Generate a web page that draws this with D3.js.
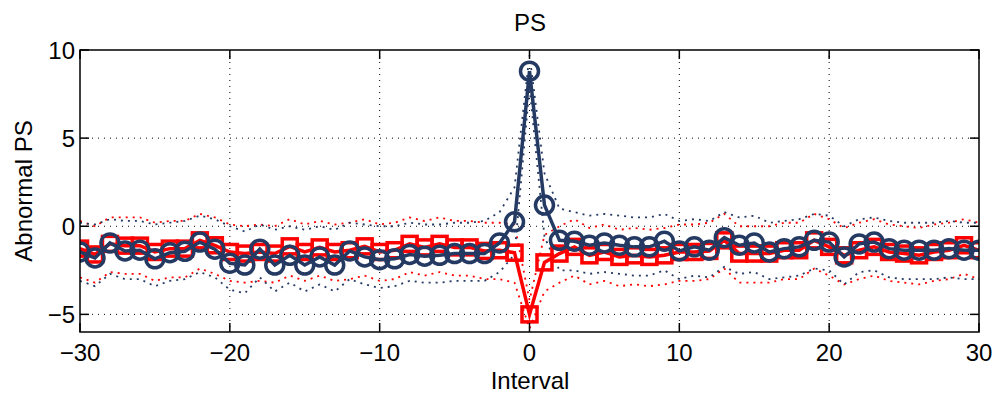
<!DOCTYPE html>
<html><head><meta charset="utf-8">
<script src="https://cdn.jsdelivr.net/npm/d3@7"></script>
<style>body{margin:0;background:#fff}svg{display:block}text{font-family:"Liberation Sans",Arial,sans-serif;fill:#000}</style>
</head><body><svg id="c" width="1000" height="396"></svg>
<script>
const intervals = d3.range(-30, 31);
const circleSeries = [-1.46,-1.8,-0.95,-1.4,-1.36,-1.85,-1.5,-1.42,-0.9,-1.3,-2.1,-2.2,-1.3,-2.2,-1.65,-2.2,-1.74,-2.2,-1.4,-1.74,-1.9,-1.85,-1.6,-1.7,-1.65,-1.55,-1.55,-1.55,-0.95,0.25,8.8,1.2,-0.8,-0.85,-1.08,-0.95,-1.08,-1.17,-1.17,-0.85,-1.4,-1.17,-1.36,-0.65,-1.08,-0.95,-1.46,-1.27,-1.17,-0.8,-0.9,-1.74,-1.0,-0.9,-1.27,-1.36,-1.36,-1.36,-1.27,-1.36,-1.36];
const squareSeries = [-1.27,-1.6,-1.0,-1.1,-1.1,-1.46,-1.27,-1.27,-0.8,-1.08,-1.46,-1.55,-1.46,-1.55,-1.14,-1.46,-1.2,-1.46,-1.36,-1.14,-1.46,-1.36,-1.0,-1.2,-1.0,-1.2,-1.2,-1.4,-1.36,-1.5,-5.0,-2.05,-1.55,-1.17,-1.65,-1.46,-1.74,-1.65,-1.74,-1.65,-1.46,-1.46,-1.4,-0.8,-1.55,-1.55,-1.55,-1.36,-1.36,-0.8,-1.17,-1.65,-1.36,-1.17,-1.46,-1.55,-1.65,-1.46,-1.36,-1.08,-1.36];
const circleUpper = [0.2,0.1,0.4,0.3,0.3,0.1,0.2,0.3,0.6,0.4,0.0,-0.3,0.1,-0.2,0.0,-0.2,0.0,-0.2,0.2,0.1,0.0,0.0,0.2,0.1,0.1,0.2,0.2,0.3,0.8,2.2,9.7,3.0,1.0,0.8,0.6,0.7,0.6,0.5,0.5,0.7,0.3,0.4,0.3,0.8,0.5,0.6,0.2,0.3,0.4,0.7,0.6,0.0,0.4,0.5,0.3,0.2,0.2,0.2,0.3,0.2,0.2];
const circleLower = [-3.1,-3.4,-2.7,-3.0,-3.0,-3.4,-3.1,-3.0,-2.6,-2.9,-3.6,-3.8,-2.9,-3.7,-3.2,-3.7,-3.3,-3.7,-3.0,-3.3,-3.5,-3.4,-3.1,-3.2,-3.2,-3.1,-3.1,-3.1,-2.6,-1.6,7.9,-0.6,-2.5,-2.5,-2.7,-2.6,-2.7,-2.8,-2.8,-2.5,-3.0,-2.8,-2.9,-2.3,-2.7,-2.6,-3.0,-2.9,-2.8,-2.4,-2.5,-3.3,-2.6,-2.5,-2.9,-3.0,-3.0,-3.0,-2.9,-3.0,-3.0];
const squareUpper = [0.3,0.0,0.5,0.5,0.5,0.2,0.3,0.3,0.7,0.5,0.1,0.0,0.1,0.0,0.4,0.1,0.3,0.1,0.2,0.4,0.1,0.2,0.5,0.3,0.5,0.3,0.3,0.2,0.2,0.1,-4.2,-0.5,0.0,0.4,-0.1,0.1,-0.2,-0.1,-0.2,-0.1,0.1,0.1,0.2,0.7,0.0,0.0,0.0,0.2,0.2,0.7,0.4,-0.1,0.2,0.4,0.1,0.0,-0.1,0.1,0.2,0.4,0.2];
const squareLower = [-2.9,-3.2,-2.6,-2.7,-2.7,-3.1,-2.9,-2.9,-2.4,-2.7,-3.1,-3.2,-3.1,-3.2,-2.8,-3.1,-2.8,-3.1,-3.0,-2.8,-3.1,-3.0,-2.6,-2.8,-2.6,-2.8,-2.8,-3.0,-3.0,-3.2,-5.8,-3.7,-3.2,-2.8,-3.3,-3.1,-3.4,-3.3,-3.4,-3.3,-3.1,-3.1,-3.0,-2.4,-3.2,-3.2,-3.2,-3.0,-3.0,-2.4,-2.8,-3.3,-3.0,-2.8,-3.1,-3.2,-3.3,-3.1,-3.0,-2.7,-3.0];
const xTicks = [-30,-20,-10,0,10,20,30];
const yTicks = [-5,0,5,10];
const title = "PS", xLabel = "Interval", yLabel = "Abnormal PS";

const navy = "#253a63", red = "#ff0000";
const L = 80, R = 979, T = 50, B = 332;
const FS = 24;
const svg = d3.select("#c");
const x = d3.scaleLinear().domain([-30, 30]).range([L, R]);
const y = d3.scaleLinear().domain([-6, 10]).range([B, T]);
const fmt = d => (d < 0 ? "\u2212" + Math.abs(d) : "" + d);

// grid
const g = svg.append("g");
g.selectAll(".gx").data(xTicks.slice(1, -1)).join("line")
  .attr("x1", d => x(d)).attr("x2", d => x(d)).attr("y1", T).attr("y2", B)
  .attr("stroke", "#000").attr("stroke-width", 1).attr("stroke-dasharray", "1,5");
g.selectAll(".gy").data(yTicks.slice(0, -1)).join("line")
  .attr("y1", d => y(d)).attr("y2", d => y(d)).attr("x1", L).attr("x2", R)
  .attr("stroke", "#000").attr("stroke-width", 1).attr("stroke-dasharray", "1,5");

svg.append("clipPath").attr("id", "clp").append("rect")
  .attr("x", L).attr("y", T).attr("width", R - L).attr("height", B - T);
const plot = svg.append("g").attr("clip-path", "url(#clp)");

const line = arr => d3.line().x((d, i) => x(intervals[i])).y(d => y(d))(arr);

// bands
[[squareUpper, red], [squareLower, red], [circleUpper, navy], [circleLower, navy]].forEach(([arr, col]) => {
  plot.append("path").attr("d", line(arr)).attr("fill", "none").attr("stroke", col)
    .attr("stroke-width", 1.8).attr("stroke-dasharray", "2,5");
});

// red series
plot.append("path").attr("d", line(squareSeries)).attr("fill", "none").attr("stroke", red).attr("stroke-width", 3.5);
const s = 15;
plot.selectAll(".sq").data(squareSeries).join("rect")
  .attr("x", (d, i) => x(intervals[i]) - s / 2).attr("y", d => y(d) - s / 2)
  .attr("width", s).attr("height", s).attr("fill", "none").attr("stroke", red).attr("stroke-width", 3.5);

// navy series
plot.append("path").attr("d", line(circleSeries)).attr("fill", "none").attr("stroke", navy).attr("stroke-width", 3.5);
plot.selectAll(".ci").data(circleSeries).join("circle")
  .attr("cx", (d, i) => x(intervals[i])).attr("cy", d => y(d)).attr("r", 9)
  .attr("fill", "none").attr("stroke", navy).attr("stroke-width", 3.5);

// box and ticks
svg.append("rect").attr("x", L).attr("y", T).attr("width", R - L).attr("height", B - T)
  .attr("fill", "none").attr("stroke", "#000").attr("stroke-width", 1.5);
const tl = 9;
xTicks.forEach(d => {
  svg.append("line").attr("x1", x(d)).attr("x2", x(d)).attr("y1", B).attr("y2", B - tl).attr("stroke", "#000").attr("stroke-width", 1.5);
  svg.append("line").attr("x1", x(d)).attr("x2", x(d)).attr("y1", T).attr("y2", T + tl).attr("stroke", "#000").attr("stroke-width", 1.5);
  svg.append("text").attr("x", x(d)).attr("y", 361).attr("text-anchor", "middle").attr("font-size", FS).text(fmt(d));
});
yTicks.forEach(d => {
  svg.append("line").attr("y1", y(d)).attr("y2", y(d)).attr("x1", L).attr("x2", L + tl).attr("stroke", "#000").attr("stroke-width", 1.5);
  svg.append("line").attr("y1", y(d)).attr("y2", y(d)).attr("x1", R).attr("x2", R - tl).attr("stroke", "#000").attr("stroke-width", 1.5);
  svg.append("text").attr("x", 75).attr("y", y(d) + 9).attr("text-anchor", "end").attr("font-size", FS).text(fmt(d));
});

svg.append("text").attr("x", 530).attr("y", 31).attr("text-anchor", "middle").attr("font-size", FS).text(title);
svg.append("text").attr("x", 530).attr("y", 389).attr("text-anchor", "middle").attr("font-size", FS).text(xLabel);
svg.append("text").attr("transform", "translate(32,191) rotate(-90)").attr("text-anchor", "middle").attr("font-size", FS).text(yLabel);
</script></body></html>
